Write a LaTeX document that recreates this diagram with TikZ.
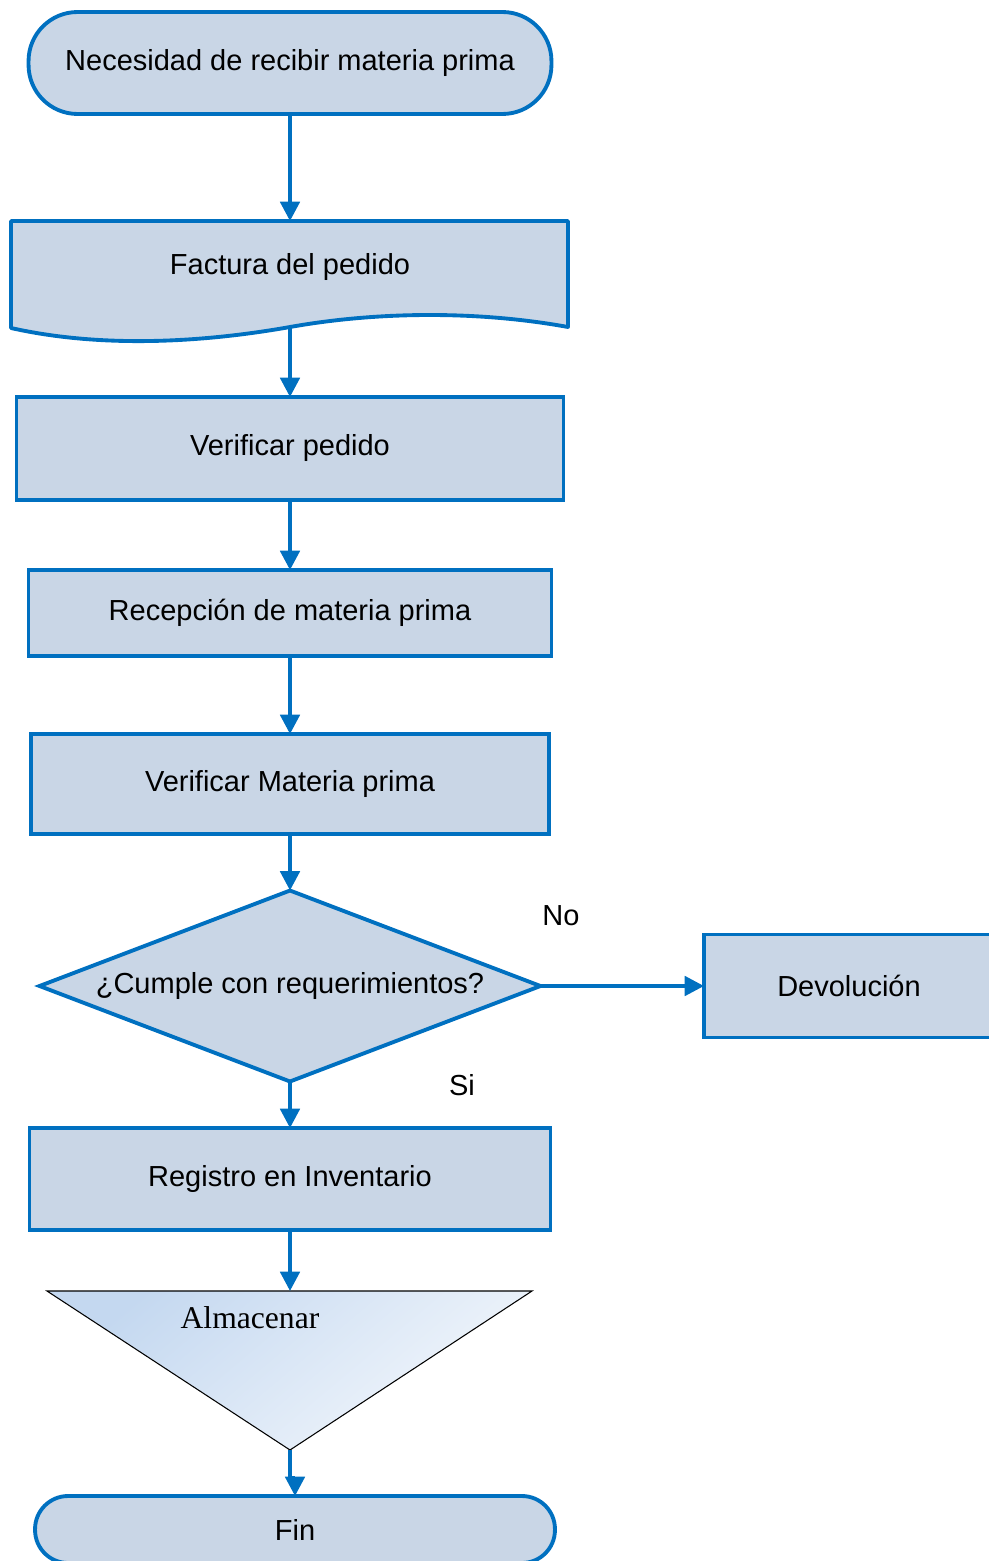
\documentclass[tikz,border=0pt]{standalone}
\usepackage{fontspec}
\setmainfont{Liberation Sans}
\newfontfamily\almfont{Liberation Serif}
\usetikzlibrary{arrows.meta,shapes.geometric}
\definecolor{flowblue}{HTML}{0070C0}
\definecolor{flowfill}{HTML}{C9D6E6}
\definecolor{tritop}{HTML}{C4D8F0}
\definecolor{tribot}{HTML}{F3F7FC}
\begin{document}
\begin{tikzpicture}[x=0.02cm,y=-0.02cm,
  every node/.style={inner sep=0pt,outer sep=0pt,font=\fontsize{16.5}{20}\selectfont},
  procbox/.style={rectangle,draw=flowblue,fill=flowfill,line width=2.2pt},
  termbox/.style={rectangle,rounded corners=0.98cm,draw=flowblue,fill=flowfill,line width=2.2pt},
  flowarrow/.style={draw=flowblue,line width=2.2pt,-{Triangle[length=11pt,width=11pt]}},
  plaintext/.style={font=\fontsize{16.5}{20}\selectfont}]
\useasboundingbox (0,0) rectangle (988,1561);

% start terminator
\node[termbox,minimum width=10.46cm,minimum height=2.04cm] (start) at (290,63) {\raisebox{-1.5pt}{Necesidad de recibir materia prima}};

% document shape with wavy lower edge
\filldraw[draw=flowblue,fill=flowfill,line width=2.2pt,line join=round]
  (11,221) -- (568,221) -- (568,327)
  .. controls (480,311) and (380,311) .. (290,327)
  .. controls (200,343) and (100,348) .. (11,328) -- cycle;
\node[minimum width=11.14cm,minimum height=2.12cm] (doc) at (290,274) {};
\node[plaintext] (doctext) at (290,267) {Factura del pedido};

% process steps
\node[procbox,minimum width=10.94cm,minimum height=2.06cm] (verif) at (290,448.5) {\raisebox{-1.5pt}{Verificar pedido}};
\node[procbox,minimum width=10.46cm,minimum height=1.72cm] (recep) at (290,613) {\raisebox{-1.5pt}{Recepción de materia prima}};
\node[procbox,minimum width=10.36cm,minimum height=2.0cm] (verifmp) at (290,784) {\raisebox{-1.5pt}{Verificar Materia prima}};

% decision
\node[diamond,draw=flowblue,fill=flowfill,line width=2.2pt,minimum width=10.02cm,minimum height=3.82cm] (dec) at (290,986) {};
\node[plaintext] (dectext) at (290,986) {¿Cumple con requerimientos?};

\node[procbox,minimum width=5.8cm,minimum height=2.06cm] (devol) at (849,986) {Devolución};
\node[procbox,minimum width=10.42cm,minimum height=2.04cm] (reg) at (290,1179) {\raisebox{-1.5pt}{Registro en Inventario}};

% storage triangle
\coordinate (tritopc) at (290,1291);
\coordinate (tribotc) at (290,1450);
\draw[black,line width=0.6pt,top color=tritop,bottom color=tribot,shading angle=40]
  (47,1291) -- (532,1291) -- (tribotc) -- cycle;
\node[font=\almfont\fontsize{18}{22}\selectfont] (almtext) at (250,1318) {Almacenar};

% end terminator
\node[termbox,rounded corners=0.66cm,minimum width=10.4cm,minimum height=1.34cm] (fin) at (295,1529.5) {Fin};

% connectors
\draw[flowarrow] (start.south) -- (doc.north);
\draw[flowarrow] (doc.south) -- (verif.north);
\draw[flowarrow] (verif.south) -- (recep.north);
\draw[flowarrow] (recep.south) -- (verifmp.north);
\draw[flowarrow] (verifmp.south) -- (dec.north);
\draw[flowarrow] (dec.east) -- (devol.west);
\draw[flowarrow] (dec.south) -- (reg.north);
\draw[flowarrow] (reg.south) -- (tritopc);
\draw[flowarrow] (tribotc) -- ++(0,28) -| (fin.north);

% branch labels
\node[plaintext] (nolbl) at (561,916) {No};
\node[plaintext] (silbl) at (462,1085) {Si};
\end{tikzpicture}
\end{document}
